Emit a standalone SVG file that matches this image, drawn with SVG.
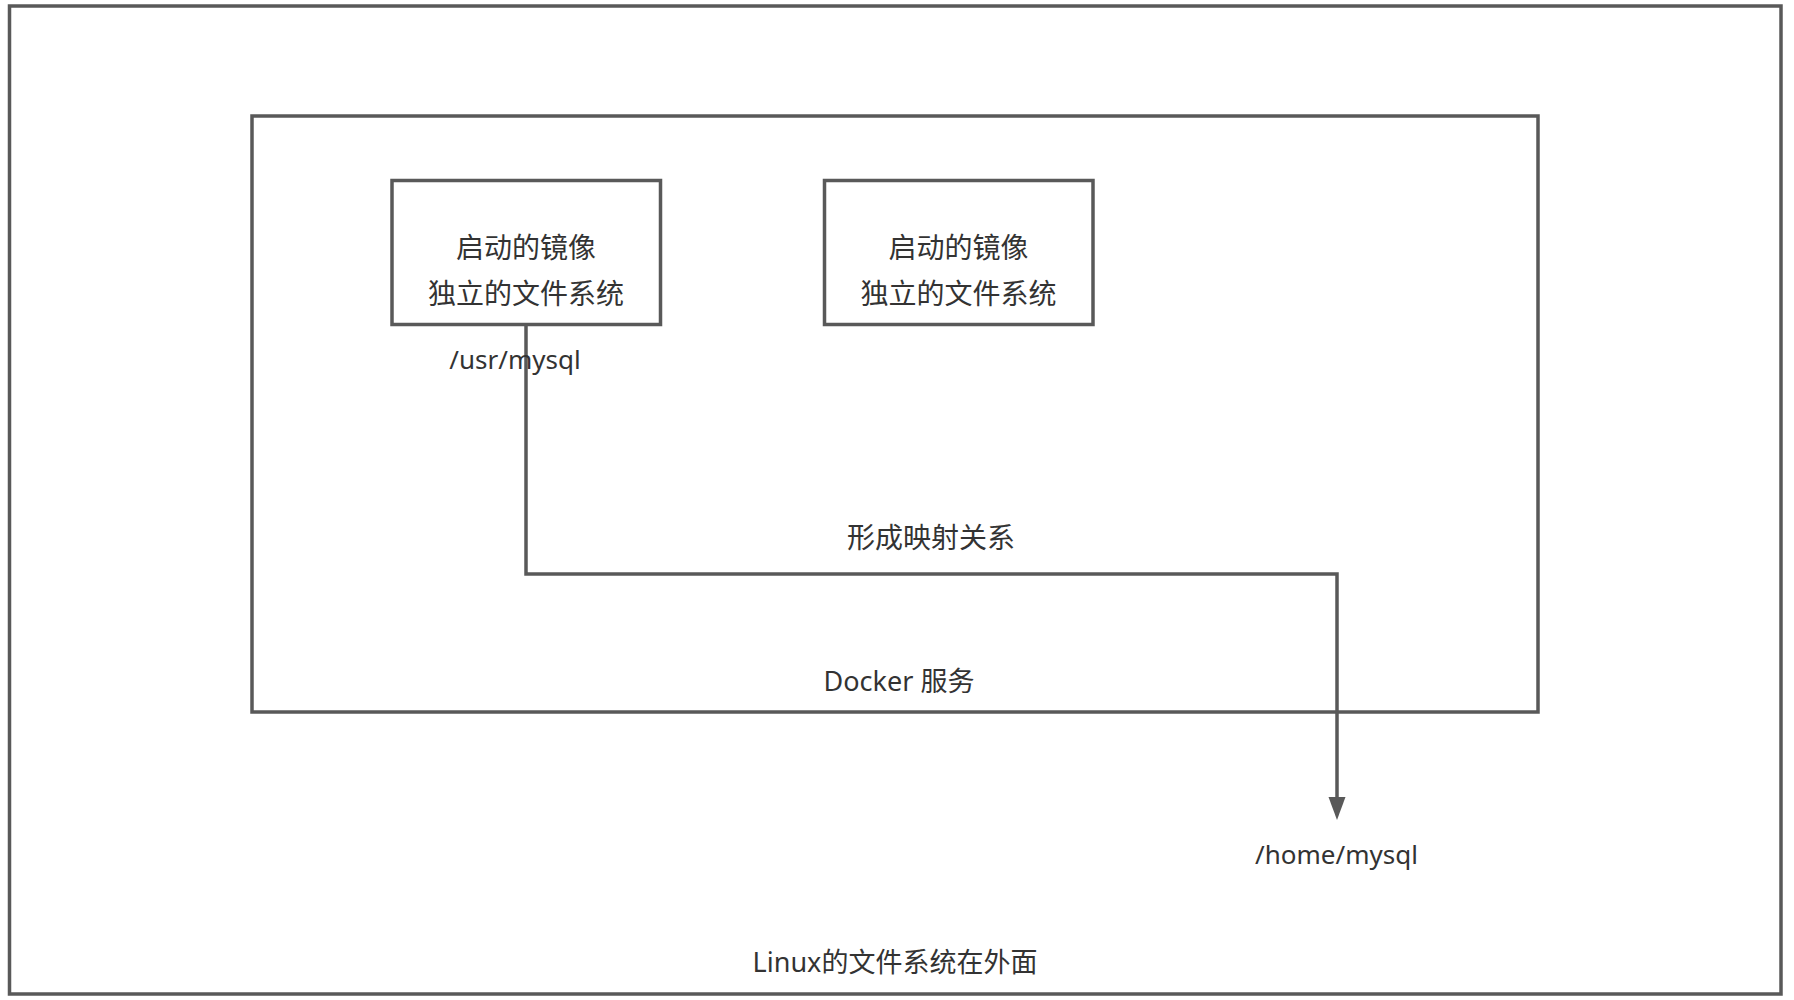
<svg xmlns="http://www.w3.org/2000/svg" width="1794" height="1000" viewBox="0 0 1794 1000">
<style>
.box{fill:#ffffff;stroke:#595959;stroke-width:3.5}
.t{font-family:"Noto Sans","Noto Sans CJK SC",sans-serif;font-size:27px;fill:#333333;text-anchor:middle}
.c{font-size:28px}
.l{font-size:26px}
.conn{fill:none;stroke:#595959;stroke-width:3.5}
</style>
<rect width="1794" height="1000" fill="#ffffff"/>
<g id="linux">
<rect class="box" x="9.5" y="6" width="1771.5" height="988"/>
<text class="t" x="895" y="972">Linux的文件系统在外面</text>
</g>
<g id="docker">
<rect class="box" x="252" y="116" width="1286" height="596"/>
<text class="t" x="899" y="691">Docker 服务</text>
</g>
<g id="container1">
<rect class="box" x="392" y="180.5" width="268.5" height="144"/>
<text class="t c" x="526" y="258">启动的镜像</text>
<text class="t c" x="526" y="304">独立的文件系统</text>
</g>
<g id="container2">
<rect class="box" x="824.5" y="180.5" width="268.5" height="144"/>
<text class="t c" x="958.5" y="258">启动的镜像</text>
<text class="t c" x="958.5" y="304">独立的文件系统</text>
</g>
<g id="connectors">
<path class="conn" d="M526,324.5 L526,574 L1337,574 L1337,798"/>
<path d="M1328.5,797 L1345.5,797 L1337,820 Z" fill="#595959"/>
</g>
<g id="labels">
<text class="t l" x="515" y="369">/usr/mysql</text>
<text class="t c" x="931" y="548">形成映射关系</text>
<text class="t l" x="1336.5" y="864">/home/mysql</text>
</g>
</svg>
